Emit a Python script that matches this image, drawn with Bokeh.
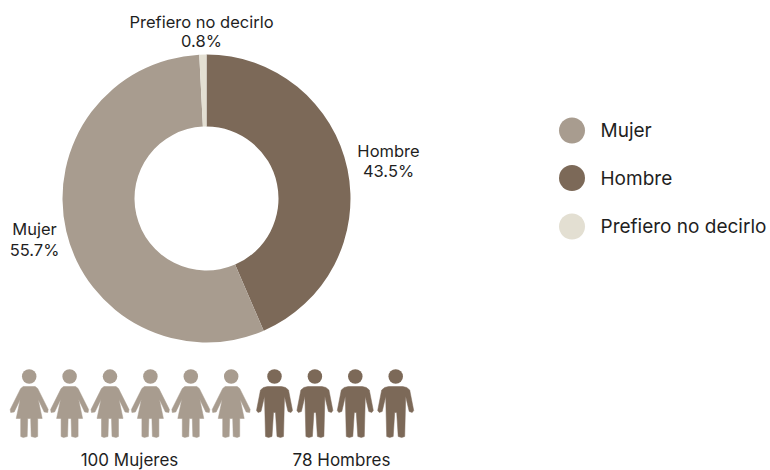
import numpy as np
from bokeh.plotting import figure
from bokeh.models import Range1d
from bokeh.core.properties import value
from bokeh.embed import file_html
from bokeh.resources import INLINE

# data
categories = ["Hombre", "Mujer", "Prefiero no decirlo"]
shares = [43.5, 55.7, 0.8]
colors = ["#7C6958", "#A89C8F", "#E3DFD2"]
legend_order = ["Mujer", "Hombre", "Prefiero no decirlo"]
women_count = 6
men_count = 4
women_label = "100 Mujeres"
men_label = "78 Hombres"

FONT = value("Inter")
TXT = "#1f1f1f"
W, H = 770, 470

p = figure(width=W, height=H, output_backend="svg", toolbar_location=None,
           x_range=Range1d(0, 770), y_range=Range1d(0, 470),
           min_border=0, outline_line_color=None)
p.xaxis.visible = False
p.yaxis.visible = False
p.grid.visible = False
p.background_fill_color = "white"
p.border_fill_color = "white"

def Y(px):
    return 470 - px

# donut
cx, cy = 206, Y(198)
fr = np.array(shares) / sum(shares)
ends = np.cumsum(fr)
starts = np.concatenate([[0], ends[:-1]])
p.annular_wedge(x=[cx] * 3, y=[cy] * 3, inner_radius=72, outer_radius=144,
                start_angle=list(np.pi / 2 - 2 * np.pi * starts),
                end_angle=list(np.pi / 2 - 2 * np.pi * ends),
                direction="clock", fill_color=colors, line_color=None)

# slice labels
label_pos = {"Hombre": (388, 150, 20), "Mujer": (34, 228.5, 21), "Prefiero no decirlo": (201, 21, 19)}
for c, s in zip(categories, shares):
    lx, ly, gap = label_pos[c]
    p.text([lx], [Y(ly)], text=[c], text_align="center", text_baseline="middle",
           text_font=FONT, text_font_size="16.5px", text_color=TXT)
    p.text([lx], [Y(ly + gap)], text=[f"{s}%"], text_align="center", text_baseline="middle",
           text_font=FONT, text_font_size="16.5px", text_color=TXT)

# legend
col = dict(zip(categories, colors))
for name, ly in zip(legend_order, [130, 177.5, 226]):
    p.scatter([571.5], [Y(ly)], size=26, marker="circle", fill_color=col[name], line_color=None)
    p.text([600], [Y(ly)], text=[name], text_align="left", text_baseline="middle",
           text_font=FONT, text_font_size="19px", text_color=TXT)

# pictograms (outline templates, offsets from the head centre, y down)
woman = [(-6, 10), (6, 10), (8.5, 12), (10.5, 16), (19, 33), (18.5, 36), (15, 35.5), (9, 23),
         (13, 42), (8.5, 42), (8.5, 60), (6, 61), (2, 60), (1.5, 42), (-1.5, 42), (-2, 60),
         (-6, 61), (-8.5, 60), (-8.5, 42), (-13, 42), (-9, 23), (-15, 35.5), (-18.5, 36),
         (-19, 33), (-10.5, 16), (-8.5, 12)]
man = [(-7, 10), (7, 10), (11, 11), (14, 13.5), (18, 34), (16.5, 36), (13.5, 35), (10, 20),
       (9, 60), (6, 61), (2.5, 60), (1, 36), (-1, 36), (-2.5, 60), (-6, 61), (-9, 60),
       (-10, 20), (-13.5, 35), (-16.5, 36), (-18, 34), (-14, 13.5), (-11, 11)]

def person(x0, tpl, color):
    y0 = 376
    p.patch([x0 + a for a, _ in tpl], [Y(y0 + b) for _, b in tpl], fill_color=color,
            line_color=color, line_width=0.5, line_join="round")
    p.scatter([x0], [Y(y0)], size=14.5, marker="circle", fill_color=color, line_color=None)

for i in range(women_count):
    person(28.7 + i * 40.4, woman, col["Mujer"])
for i in range(men_count):
    person(274 + i * 40.4, man, col["Hombre"])

p.text([129], [Y(459)], text=[women_label], text_align="center", text_baseline="middle",
       text_font=FONT, text_font_size="17px", text_color=TXT)
p.text([341], [Y(459)], text=[men_label], text_align="center", text_baseline="middle",
       text_font=FONT, text_font_size="17px", text_color=TXT)

open("out.html", "w").write(file_html(p, INLINE))
